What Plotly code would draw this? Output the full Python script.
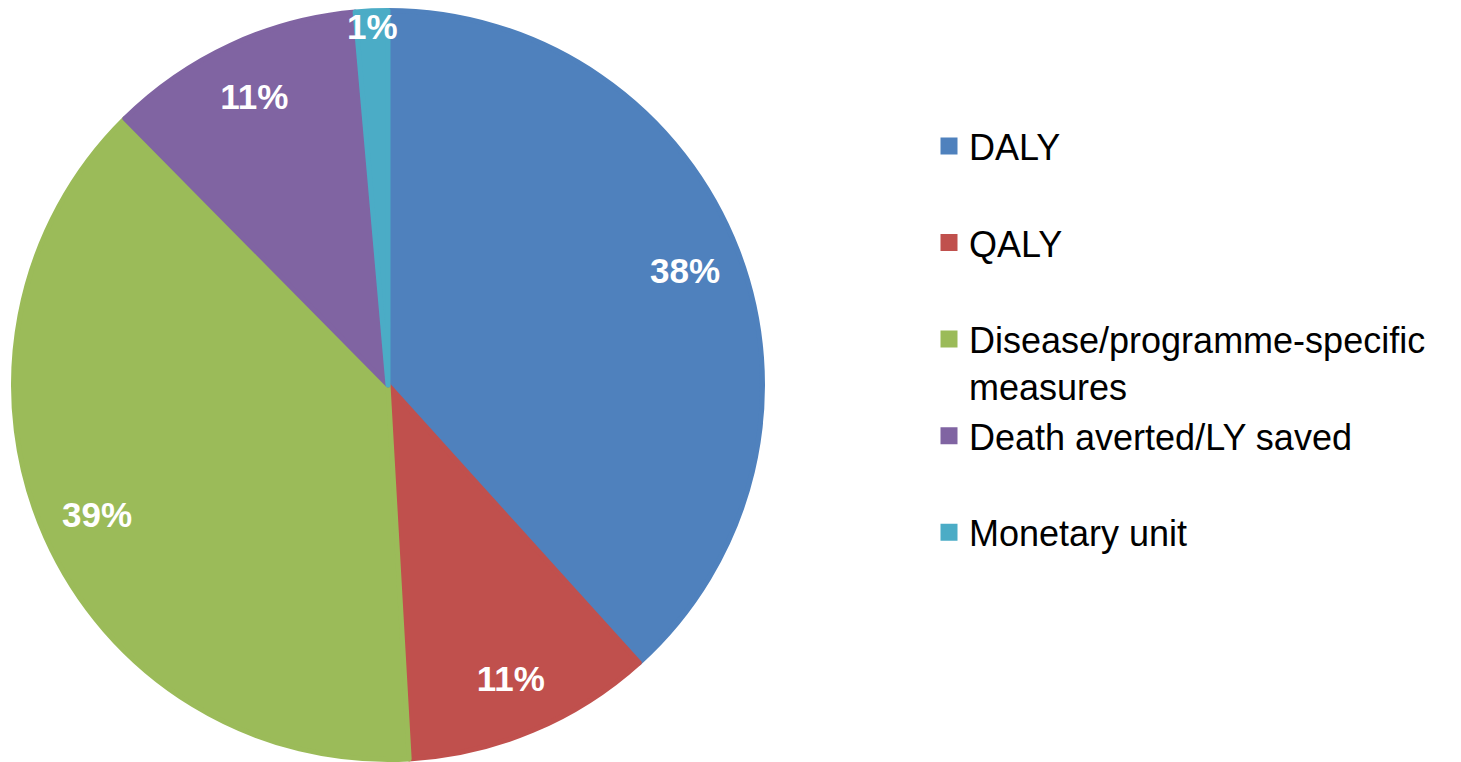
import plotly.graph_objects as go

# share of studies by outcome measure (%)
labels = [
    "DALY",
    "QALY",
    "Disease/programme-specific measures",
    "Death averted/LY saved",
    "Monetary unit",
]
values = [38.3, 10.8, 38.5, 11.0, 1.4]
pct_text = ["38%", "11%", "39%", "11%", "1%"]
colors = ["#4F81BD", "#C0504D", "#9BBB59", "#8064A2", "#4BACC6"]

W, H = 1461, 762

# legend names: pad single-line entries to two lines so spacing is even
legend_names = [
    "DALY<br> ",
    "QALY<br> ",
    "Disease/programme-specific<br>measures",
    "Death averted/LY saved<br> ",
    "Monetary unit<br> ",
]

# page has an 8px body margin, so figure coords are offset by 8px
domain = dict(x=[5.5 / W, 754.5 / W], y=[1 - 751.5 / H, 1 - 2.5 / H])

fig = go.Figure()

# the pie itself
fig.add_trace(go.Pie(
    labels=legend_names,
    values=values,
    sort=False,
    direction="clockwise",
    rotation=0,
    marker=dict(colors=colors, line=dict(color=colors, width=5)),
    textinfo="none",
    hoverinfo="label+percent",
    domain=domain,
))

# transparent ring on top, used only to place the labels near the rim
fig.add_trace(go.Pie(
    labels=legend_names,
    values=values,
    sort=False,
    direction="clockwise",
    rotation=0,
    hole=0.7,
    marker=dict(colors=["rgba(0,0,0,0)"] * len(values)),
    text=pct_text,
    textinfo="text",
    textposition="inside",
    insidetextorientation="horizontal",
    insidetextfont=dict(family="Arial, Liberation Sans", size=35, color="white"),
    texttemplate="<b>%{text}</b>",
    hoverinfo="skip",
    showlegend=False,
    domain=domain,
))

fig.update_layout(
    width=W,
    height=H,
    margin=dict(l=0, r=0, t=0, b=0),
    paper_bgcolor="white",
    plot_bgcolor="white",
    uniformtext=dict(minsize=35, mode="show"),
    legend=dict(
        x=921 / W,
        xanchor="left",
        y=1 - 108 / H,
        yanchor="top",
        valign="top",
        font=dict(family="Arial, Liberation Sans", size=36, color="black"),
        bgcolor="rgba(0,0,0,0)",
    ),
)

fig.write_html("out.html")
